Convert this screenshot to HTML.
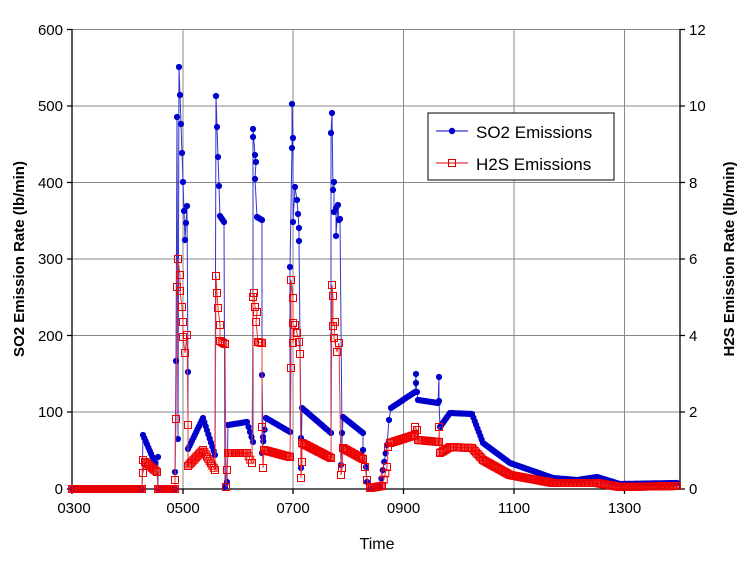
<!DOCTYPE html>
<html><head><meta charset="utf-8"><style>
html,body{margin:0;padding:0;background:#fff;}
svg{display:block;font-family:"Liberation Sans",sans-serif;}
</style></head><body>
<svg id="s" width="750" height="563" viewBox="0 0 750 563" xmlns="http://www.w3.org/2000/svg">
<g stroke="#888" stroke-width="1">
<line x1="72" y1="29.5" x2="680" y2="29.5"/>
<line x1="72" y1="106" x2="680" y2="106"/>
<line x1="72" y1="182.5" x2="680" y2="182.5"/>
<line x1="72" y1="259" x2="680" y2="259"/>
<line x1="72" y1="335.5" x2="680" y2="335.5"/>
<line x1="72" y1="412" x2="680" y2="412"/>
<line x1="183" y1="29" x2="183" y2="489"/>
<line x1="293" y1="29" x2="293" y2="489"/>
<line x1="403.5" y1="29" x2="403.5" y2="489"/>
<line x1="514" y1="29" x2="514" y2="489"/>
<line x1="624.5" y1="29" x2="624.5" y2="489"/>
</g>
<g stroke="#000" stroke-width="1.3" fill="none">
<line x1="72" y1="29" x2="72" y2="489"/>
<line x1="680" y1="29" x2="680" y2="489"/>
<line x1="72" y1="489" x2="680" y2="489"/>
<path d="M67 29.5H72M67 106H72M67 182.5H72M67 259H72M67 335.5H72M67 412H72M67 489H72M680 29.5H685M680 106H685M680 182.5H685M680 259H685M680 335.5H685M680 412H685M680 489H685M72 489V494M183 489V494M293 489V494M403.5 489V494M514 489V494M624.5 489V494"/>
</g>
<g id="series"></g>
<g font-size="15" fill="#000" text-anchor="end">
<text x="63" y="35">600</text><text x="63" y="111">500</text><text x="63" y="188">400</text><text x="63" y="264">300</text><text x="63" y="341">200</text><text x="63" y="417">100</text><text x="63" y="494">0</text>
</g>
<g font-size="15" fill="#000" text-anchor="start">
<text x="689" y="35">12</text><text x="689" y="111">10</text><text x="689" y="188">8</text><text x="689" y="264">6</text><text x="689" y="341">4</text><text x="689" y="417">2</text><text x="689" y="494">0</text>
</g>
<g font-size="15" fill="#000" text-anchor="middle">
<text x="74" y="513">0300</text><text x="183" y="513">0500</text><text x="293" y="513">0700</text><text x="403.5" y="513">0900</text><text x="514" y="513">1100</text><text x="624.5" y="513">1300</text>
<text x="377" y="549" font-size="16">Time</text>
</g>
<text transform="translate(24,259) rotate(-90)" text-anchor="middle" font-size="15" font-weight="bold">SO2 Emission Rate (lb/min)</text>
<text transform="translate(734,259) rotate(-90)" text-anchor="middle" font-size="15" font-weight="bold">H2S Emission Rate (lb/min)</text>
<rect x="428" y="113" width="186" height="67" fill="#fff" stroke="#000" stroke-width="1"/>
<line x1="436" y1="131" x2="468" y2="131" stroke="#00c" stroke-width="1"/>
<circle cx="452" cy="131" r="3.2" fill="#00c"/>
<line x1="436" y1="163" x2="468" y2="163" stroke="#d00" stroke-width="1"/>
<rect x="448.5" y="159.5" width="7" height="7" fill="none" stroke="#d00" stroke-width="1"/>
<text x="476" y="138" font-size="17">SO2 Emissions</text>
<text x="476" y="170" font-size="17">H2S Emissions</text>
</svg>
<script>
var so2=[[72,489],[142,489],[143,435],[155,463],[158,457],[158,489],[175,489],[175,472],[176,361],[177,117],[178,439],[179,67],[180,95],[181,124],[182,153],[183,182],[184,211],[185,240],[186,223],[187,206],[188,372],[188,449],[203,418],[215,455],[216,96],[217,127],[218,157],[219,186],[220,216],[224,222],[225,487],[227,482],[228,425],[247,422],[253,442],[253,137],[253,129],[255,155],[256,162],[255,179],[257,217],[262,220],[262,375],[263,437],[262,453],[266,418],[290,432],[290,267],[292,148],[292,104],[293,138],[293,222],[295,187],[297,200],[298,214],[299,228],[299,241],[301,438],[301,468],[302,408],[331,433],[331,133],[332,113],[333,190],[334,182],[334,212],[336,208],[336,236],[338,205],[339,220],[340,219],[342,433],[341,465],[343,417],[363,433],[363,450],[366,467],[367,482],[370,489],[380,487],[387,445],[389,420],[391,408],[415,392],[416,374],[416,383],[417,392],[418,400],[438,403],[439,377],[439,401],[440,427],[450,413],[472,414],[483,443],[510,463],[553,478],[577,480],[597,477],[620,484],[677,483]];
var h2s=[[72,489],[142,489],[143,460],[143,473],[145,462],[157,472],[158,489],[175,489],[175,480],[176,419],[177,287],[178,259],[180,275],[180,291],[182,307],[183,322],[183,337],[185,353],[187,335],[188,425],[188,466],[203,450],[215,470],[216,276],[217,293],[218,308],[220,325],[220,341],[225,344],[226,487],[227,470],[228,453],[247,453],[252,463],[253,297],[254,293],[255,307],[257,312],[256,322],[258,342],[262,343],[262,427],[263,468],[264,450],[290,457],[291,368],[291,280],[293,298],[293,323],[293,343],[295,325],[297,333],[299,342],[300,354],[301,478],[302,462],[302,443],[331,458],[332,285],[333,296],[333,326],[335,322],[334,338],[337,352],[339,343],[341,475],[342,468],[343,448],[363,459],[365,467],[367,480],[370,488],[382,486],[387,467],[388,447],[390,443],[415,435],[415,427],[417,430],[418,440],[439,442],[439,427],[440,453],[450,447],[472,448],[483,460],[510,475],[553,483],[597,483],[620,487],[677,486]];
function dens(a){var o=[];for(var i=0;i<a.length;i++){if(i>0){var p=a[i-1],q=a[i],dx=q[0]-p[0];if(dx>3){var n=Math.floor(dx/1.3);for(var k=1;k<n;k++){o.push([p[0]+dx*k/n,p[1]+(q[1]-p[1])*k/n]);}}}o.push(a[i]);}return o;}
var g=document.getElementById('series'),h='';
function pl(a,c){return '<polyline fill="none" stroke="'+c+'" stroke-width="1" points="'+a.map(function(p){return p.join(',')}).join(' ')+'"/>';}
var s=dens(so2),r=dens(h2s);
h+=pl(so2,'#33c');
s.forEach(function(p){h+='<circle cx="'+p[0].toFixed(1)+'" cy="'+p[1].toFixed(1)+'" r="3.1" fill="#00c"/>';});
h+=pl(h2s,'#e33');
r.forEach(function(p){h+='<rect x="'+(p[0]-3.5).toFixed(1)+'" y="'+(p[1]-3.5).toFixed(1)+'" width="7" height="7" fill="none" stroke="#e00" stroke-width="1"/>';});
g.innerHTML=h;
</script>
</body></html>
